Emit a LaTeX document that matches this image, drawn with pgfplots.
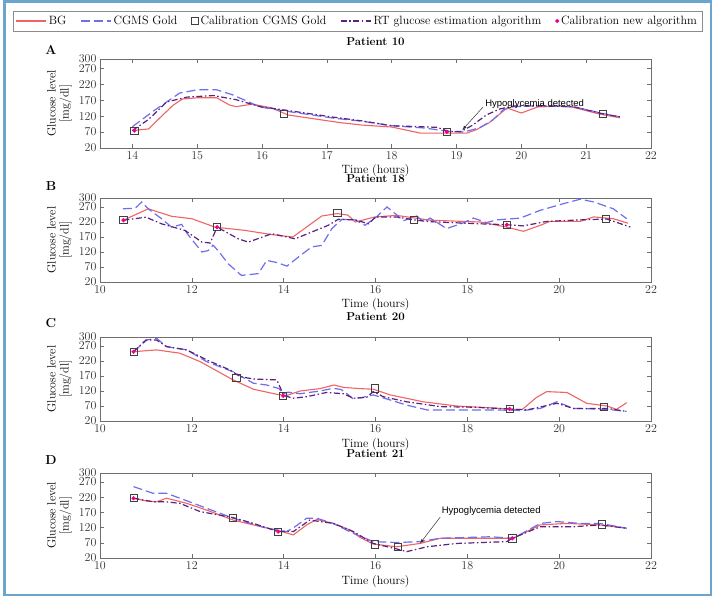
\documentclass[border=0pt]{standalone}
\usepackage{fontspec}
\usepackage{pgfplots}
\pgfplotsset{compat=1.18}
\newfontfamily\annfont{Liberation Sans}

\definecolor{bgred}{RGB}{240,100,100}
\definecolor{cgmsblue}{RGB}{110,110,238}
\definecolor{rtpurple}{RGB}{90,35,125}
\definecolor{frameblue}{RGB}{105,165,205}
\definecolor{axgray}{RGB}{110,110,110}

\tikzset{plabel/.style={font=\fontsize{13}{13}\selectfont\bfseries}}

\pgfplotsset{
  panel/.style={
    scale only axis, width=551pt, clip mode=individual,
    xmin=10, xmax=22, ymin=20, ymax=300,
    xtick={10,12,...,22}, ytick={20,70,120,170,220,270,300},
    tick align=inside,
    axis line style={axgray, line width=0.8pt},
    major tick length=4pt,
    every tick/.style={axgray, line width=0.6pt},
    tick label style={font=\fontsize{12}{12}\selectfont, text=black!80},
    label style={font=\fontsize{12}{13}\selectfont},
    xlabel={Time (hours)},
    xlabel style={at={(axis description cs:0.5,0)}, anchor=center, yshift=-23pt},
    ylabel={Glucose level\\{[mg/dl]}},
    ylabel style={align=center, at={(axis description cs:-0.0735,0.5)}, anchor=center},
    title style={font=\fontsize{11.5}{12}\selectfont\bfseries, at={(0.5,1)}, anchor=center},
  },
  lineleg/.style={legend image code/.code={\draw[##1] (0pt,0pt) -- (30pt,0pt);}},
  markleg/.style={legend image code/.code={\draw[##1] plot coordinates {(5pt,0pt)};}},
  bg/.style={bgred, line width=1.1pt},
  cgms/.style={cgmsblue, line width=1.2pt, dash pattern=on 9pt off 4pt},
  rt/.style={rtpurple, line width=1.2pt, dash pattern=on 6pt off 2.5pt on 1.5pt off 2.5pt},
  calc/.style={only marks, mark=square, mark size=3.6pt,
    mark options={draw=black!75, line width=0.7pt, solid}, markleg},
  caln/.style={only marks, mark=*, mark size=1.9pt,
    mark options={draw=magenta, fill=magenta, solid}, markleg},
}

\begin{document}
\begin{tikzpicture}
\path[use as bounding box, fill=white] (0pt,0pt) rectangle (714pt,-597pt);
\draw[frameblue, line width=2.5pt] (4.5pt,-1.5pt) rectangle (711pt,-595pt);

% ---------------- Panel A: patient 10
\begin{axis}[panel, at={(100pt,-59pt)}, anchor=north west, height=89pt,
  xmin=13.5, xtick={14,...,22},
  title={Patient 10}, title style={yshift=11pt},
  legend columns=5, lineleg,
  legend style={at={(0.467,1.427)}, anchor=center, draw=black!45,
    font=\fontsize{12}{12}\selectfont, inner ysep=3pt,
    /tikz/every even column/.append style={column sep=12pt}},
]
\addplot[bg] coordinates {
  (14.0,75) (14.25,80) (14.45,120) (14.63,155) (14.77,174) (15.0,178) (15.3,178)
  (15.5,155) (15.6,150) (15.85,158) (16.15,146) (16.4,124) (16.93,108) (17.2,100)
  (17.55,92) (18.0,86) (18.44,67) (18.9,67) (19.16,67) (19.3,77) (19.5,99)
  (19.78,146) (20.0,130) (20.25,149) (20.6,152) (20.8,148) (21.2,127) (21.52,115)};
\addlegendentry{BG}
\addplot[cgms] coordinates {
  (14.0,87) (14.35,140) (14.73,193) (15.0,203) (15.3,203) (15.55,187) (15.97,149)
  (16.4,135) (17.1,114) (17.55,104) (18.0,90) (18.5,83) (18.9,72) (19.1,70)
  (19.35,83) (19.56,108) (19.72,140) (19.88,150) (20.3,153) (20.8,150) (21.27,128)
  (21.52,118)};
\addlegendentry{CGMS Gold}
\addplot[calc] coordinates {(14.03,75) (16.34,127) (18.85,71) (21.26,127)};
\addlegendentry{Calibration CGMS Gold}
\addplot[rt] coordinates {
  (14.0,75) (14.25,110) (14.53,165) (14.84,180) (15.25,185) (15.6,172) (15.97,150)
  (16.4,138) (17.1,117) (17.55,105) (18.0,90) (18.3,88) (18.7,85) (18.88,72)
  (19.07,72) (19.25,92) (19.46,124) (19.67,143) (19.88,152) (20.3,152) (20.8,150)
  (21.27,127) (21.52,118)};
\addlegendentry{RT glucose estimation algorithm}
\addplot[caln] coordinates {(14.03,75) (18.85,71)};
\addlegendentry{Calibration new algorithm}
\draw[-latex, black!80, line width=0.5pt] (axis cs:19.41,149) -- (axis cs:19.09,77);
\node[anchor=west, inner sep=0pt, font=\annfont\fontsize{9.5}{10}\selectfont]
  at (axis cs:19.44,158) {Hypoglycemia detected};
\node[plabel] at (axis description cs:-0.089,1) [yshift=9pt] {A};
\end{axis}

% ---------------- Panel B: patient 18
\begin{axis}[panel, at={(100pt,-198pt)}, anchor=north west, height=84pt,
  title={Patient 18}, title style={yshift=13pt}]
\addplot[bg] coordinates {
  (10.51,226) (11.05,264) (11.56,239) (12.0,231) (12.5,203) (13.16,192) (13.74,178)
  (14.2,170) (14.83,240) (15.16,248) (15.4,243) (15.56,220) (15.99,237) (16.46,242)
  (17.19,226) (18.28,220) (18.86,203) (19.22,189) (19.59,209) (19.8,222) (20.46,222)
  (20.75,237) (21.18,231) (21.5,216)};
\addplot[cgms] coordinates {
  (10.5,264) (10.77,266) (10.91,287) (11.05,264) (11.34,231) (11.56,203) (11.78,212)
  (11.9,181) (12.22,120) (12.36,125) (12.46,143) (12.57,125) (12.79,81) (13.08,42)
  (13.45,48) (13.63,92) (13.85,85) (14.07,73) (14.32,103) (14.61,137) (14.83,142)
  (15.05,198) (15.27,229) (15.56,227) (15.77,209) (16.02,237) (16.25,270) (16.46,244)
  (16.6,224) (16.9,240) (17.05,220) (17.19,233) (17.55,198) (17.91,217) (18.13,233)
  (18.42,218) (18.64,227) (19.15,233) (19.59,259) (20.09,281) (20.46,296) (20.75,287)
  (21.18,264) (21.47,231)};
\addplot[calc] coordinates {(10.51,226) (12.55,203) (15.17,250) (16.83,226) (18.86,211) (21.02,231)};
\addplot[rt] coordinates {
  (10.51,226) (11.0,236) (11.34,214) (11.85,192) (12.22,153) (12.4,150) (12.55,203)
  (13.01,164) (13.23,153) (13.74,181) (14.25,164) (14.97,209) (15.19,229) (15.56,227)
  (15.85,214) (16.0,237) (16.46,237) (16.83,227) (17.19,221) (18.28,214) (18.86,211)
  (19.22,207) (19.73,222) (20.46,227) (21.04,230) (21.55,203)};
\addplot[caln] coordinates {(10.51,226) (12.55,203) (18.86,211)};
\node[plabel] at (axis description cs:-0.089,1) [yshift=12pt] {B};
\end{axis}

% ---------------- Panel C: patient 20
\begin{axis}[panel, at={(100pt,-337pt)}, anchor=north west, height=84pt,
  title={Patient 20}, title style={yshift=14pt}]
\addplot[bg] coordinates {
  (10.73,251) (11.23,257) (11.74,246) (12.18,218) (12.9,157) (13.34,126) (13.85,109)
  (14.06,105) (14.36,120) (14.79,128) (15.1,140) (15.3,132) (15.66,128) (15.95,126)
  (16.32,107) (17.04,84) (17.77,70) (18.5,64) (19.0,59) (19.2,59) (19.51,99)
  (19.73,118) (20.17,115) (20.6,79) (21.04,70) (21.25,59) (21.47,81)};
\addplot[cgms] coordinates {
  (10.73,251) (11.02,290) (11.23,296) (11.45,268) (11.89,257) (12.32,218) (12.9,184)
  (13.34,146) (13.63,140) (13.9,128) (13.98,111) (14.1,116) (14.36,111) (14.79,120)
  (15.08,129) (15.25,125) (15.38,111) (15.5,95) (15.7,98) (15.95,107) (16.32,90)
  (16.68,73) (17.12,57) (17.77,57) (18.5,57) (19.22,55) (19.59,62) (19.95,84)
  (20.31,62) (21.04,59) (21.47,52)};
\addplot[calc] coordinates {(10.73,251) (12.97,164) (13.99,104) (15.99,129) (18.92,60) (20.98,66)};
\addplot[rt] coordinates {
  (10.73,251) (11.0,290) (11.23,290) (11.45,268) (11.89,257) (12.32,224) (12.83,190)
  (13.05,168) (13.34,160) (13.85,157) (13.96,120) (14.0,105) (14.21,96) (14.5,101)
  (14.93,115) (15.3,111) (15.52,96) (15.81,99) (15.95,118) (16.17,101) (16.68,84)
  (17.41,68) (18.13,66) (18.92,60) (19.3,57) (19.95,79) (20.31,62) (21.04,62)
  (21.47,52)};
\addplot[caln] coordinates {(10.73,251) (13.99,104) (18.92,60)};
\node[plabel] at (axis description cs:-0.089,1) [yshift=14pt] {C};
\end{axis}

% ---------------- Panel D: patient 21
\begin{axis}[panel, at={(100pt,-473pt)}, anchor=north west, height=85pt,
  title={Patient 21}, title style={yshift=13pt}]
\addplot[bg] coordinates {
  (10.73,217) (11.0,208) (11.23,205) (11.45,217) (11.89,200) (12.32,178) (12.9,145)
  (13.34,129) (13.85,112) (14.21,96) (14.5,129) (14.72,147) (15.08,134) (15.45,112)
  (15.66,88) (15.95,66) (16.46,57) (16.97,68) (17.41,85) (18.13,85) (19.0,85)
  (19.59,129) (20.17,134) (20.89,129) (21.47,118)};
\addplot[cgms] coordinates {
  (10.73,255) (11.16,233) (11.45,233) (11.74,217) (12.32,184) (12.9,151) (13.63,118)
  (14.06,107) (14.2,118) (14.5,151) (14.72,151) (15.08,134) (15.52,101) (15.95,74)
  (16.46,71) (16.97,74) (17.41,85) (18.5,90) (19.0,85) (19.59,134) (19.95,140)
  (20.46,134) (20.89,134) (21.47,118)};
\addplot[calc] coordinates {(10.73,217) (12.9,153) (13.88,107) (15.99,65) (16.48,57) (18.98,85) (20.93,131)};
\addplot[rt] coordinates {
  (10.73,217) (11.16,205) (11.45,205) (11.74,200) (12.18,173) (12.9,153) (13.34,134)
  (13.88,107) (14.21,107) (14.57,145) (15.08,134) (15.52,107) (15.95,68) (16.46,50)
  (16.68,41) (16.82,46) (17.12,57) (17.77,68) (18.86,74) (18.98,85) (19.59,123)
  (20.31,123) (20.89,129) (21.47,118)};
\addplot[caln] coordinates {(10.73,217) (13.88,107) (18.98,85)};
\draw[-latex, black!80, line width=0.5pt] (axis cs:17.41,155) -- (axis cs:16.97,68);
\node[anchor=west, inner sep=0pt, font=\annfont\fontsize{9.5}{10}\selectfont]
  at (axis cs:17.44,175) {Hypoglycemia detected};
\node[plabel] at (axis description cs:-0.089,1) [yshift=13pt] {D};
\end{axis}
\end{tikzpicture}
\end{document}
